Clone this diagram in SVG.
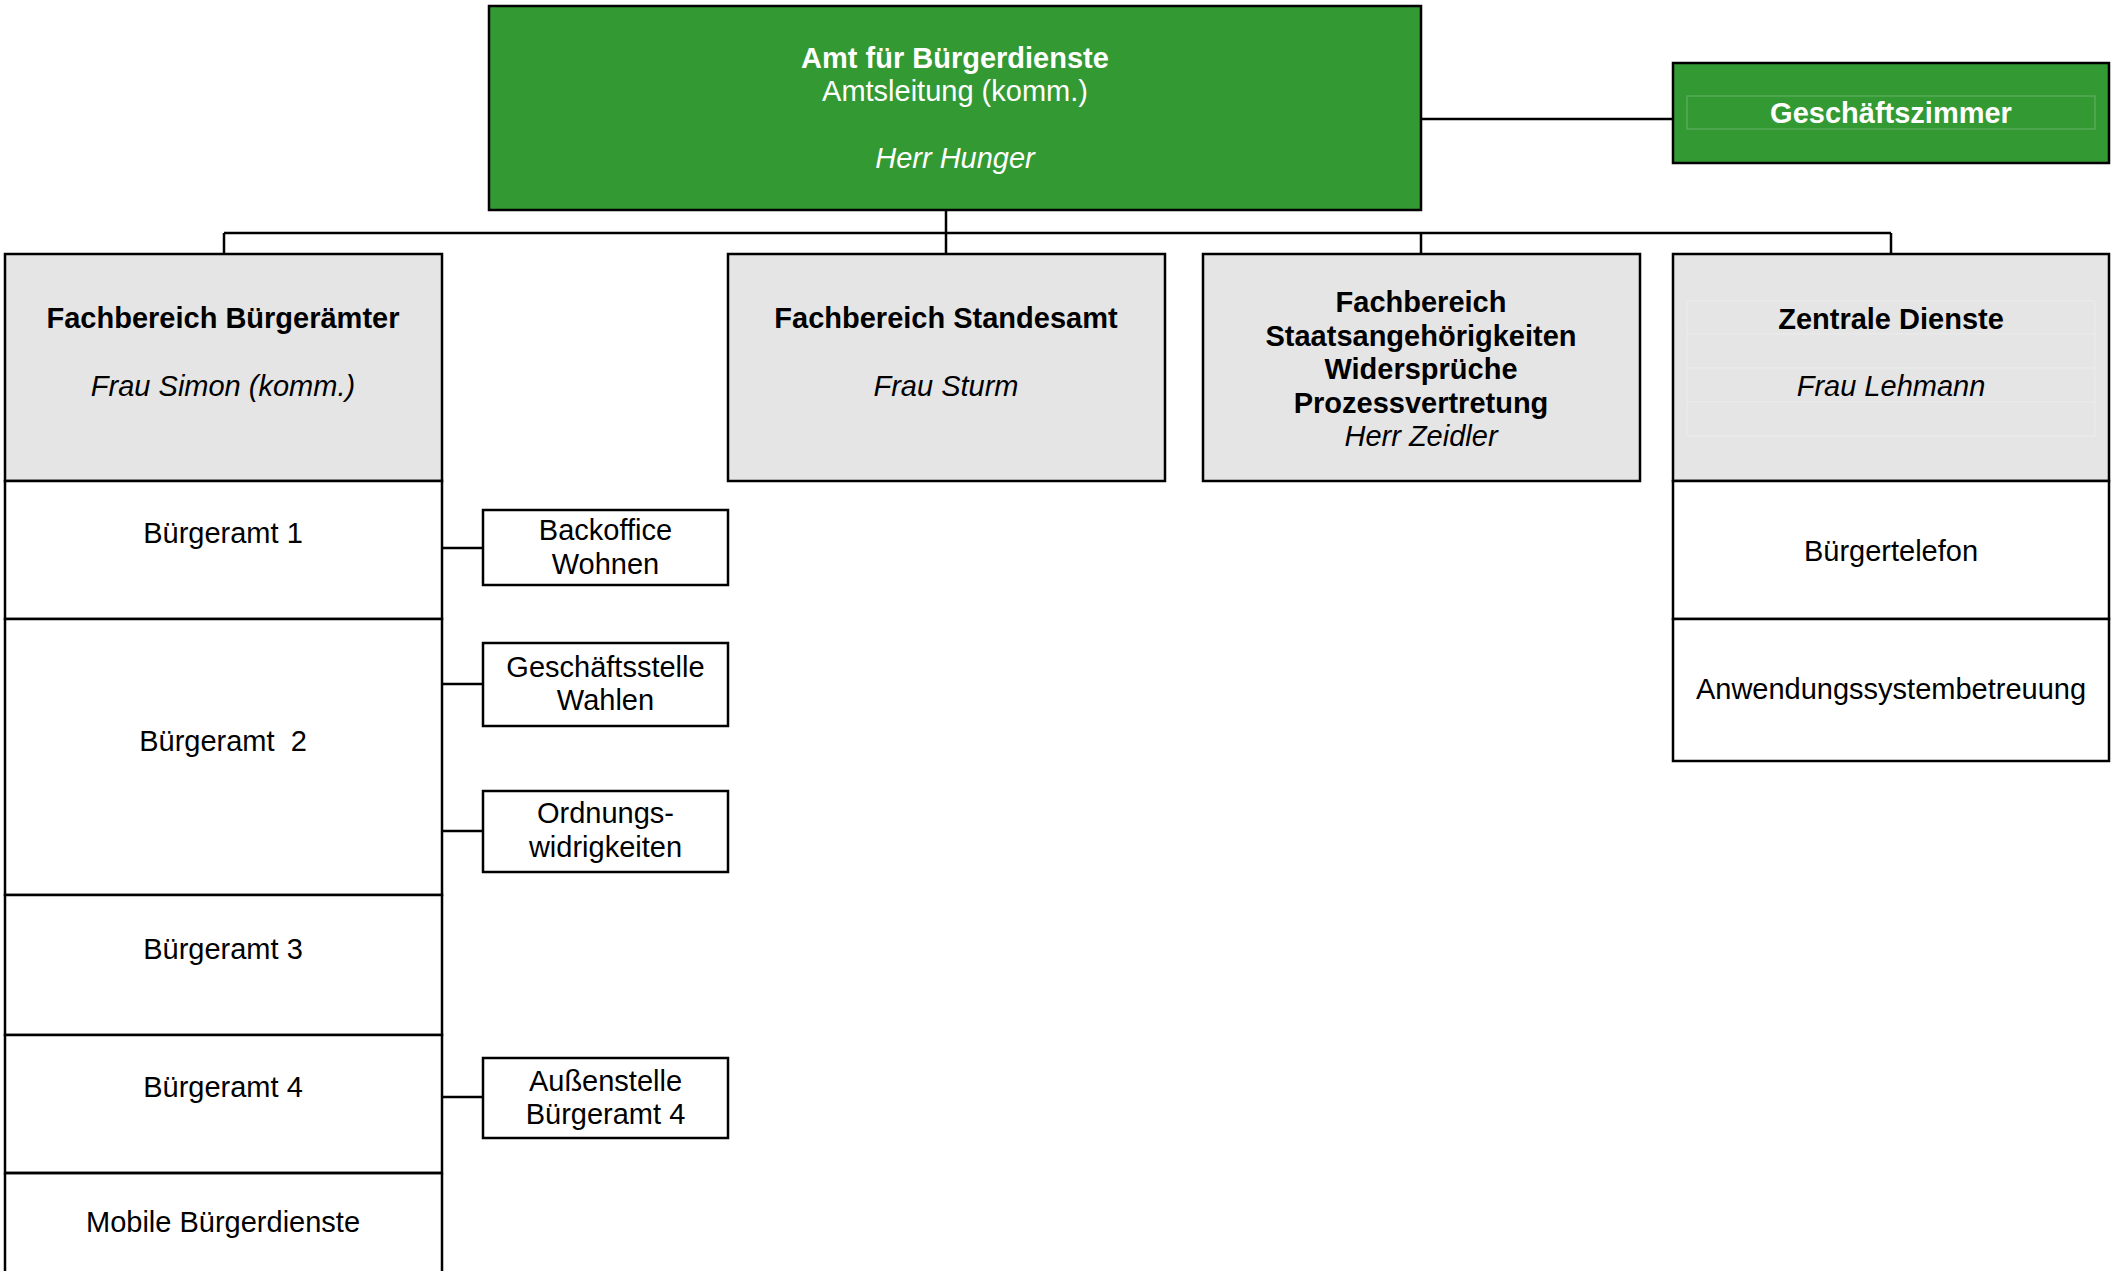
<svg xmlns="http://www.w3.org/2000/svg" width="2111" height="1271" viewBox="0 0 2111 1271">
<style>
.box{stroke:#000;stroke-width:2.5}
.green{fill:#339933}
.gray{fill:#e5e5e5}
.white{fill:#ffffff}
.line{stroke:#000;stroke-width:2.5;fill:none}
.faintg{fill:none;stroke:#5fb05f;stroke-width:1.2}
.faint{fill:none;stroke:#ececec;stroke-width:1}
text{font-family:"Liberation Sans",Arial,sans-serif;font-size:29px;text-anchor:middle;fill:#000}
.b{font-weight:bold}
.i{font-style:italic}
.w{fill:#fff}
</style>
<rect width="2111" height="1271" fill="#fff"/>
<g id="connectors">
<path class="line" d="M946,210V233M224,233H1891M224,233V254M946,233V254M1421,233V254M1891,233V254"/>
<path class="line" d="M1421,119H1673"/>
<path class="line" d="M442,548H483M442,684H483M442,831H483M442,1097H483"/>
</g>
<g id="amt">
<rect class="box green" x="489" y="6" width="932" height="204"/>
<text class="b w" x="955" y="68">Amt für Bürgerdienste</text>
<text class="w" x="955" y="101">Amtsleitung (komm.)</text>
<text class="i w" x="955" y="168">Herr Hunger</text>
</g>
<g id="geschaeftszimmer">
<rect class="box green" x="1673" y="63" width="436" height="100"/>
<rect class="faintg" x="1687" y="96" width="408" height="33"/>
<text class="b w" x="1891" y="123">Geschäftszimmer</text>
</g>
<g id="fb-buergeraemter">
<rect class="box gray" x="5" y="254" width="437" height="227"/>
<text class="b" x="223" y="328">Fachbereich Bürgerämter</text>
<text class="i" x="223" y="396">Frau Simon (komm.)</text>
</g>
<g id="buergeramt1">
<rect class="box white" x="5" y="481" width="437" height="138"/>
<text x="223" y="543">Bürgeramt 1</text>
</g>
<g id="buergeramt2">
<rect class="box white" x="5" y="619" width="437" height="276"/>
<text x="223" y="751" xml:space="preserve">Bürgeramt  2</text>
</g>
<g id="buergeramt3">
<rect class="box white" x="5" y="895" width="437" height="140"/>
<text x="223" y="959">Bürgeramt 3</text>
</g>
<g id="buergeramt4">
<rect class="box white" x="5" y="1035" width="437" height="138"/>
<text x="223" y="1097">Bürgeramt 4</text>
</g>
<g id="mobile">
<path class="line" d="M5,1173H442M5,1173V1275M442,1173V1275"/>
<text x="223" y="1232">Mobile Bürgerdienste</text>
</g>
<g id="backoffice">
<rect class="box white" x="483" y="510" width="245" height="75"/>
<text x="605.5" y="540">Backoffice</text>
<text x="605.5" y="574">Wohnen</text>
</g>
<g id="wahlen">
<rect class="box white" x="483" y="643" width="245" height="83"/>
<text x="605.5" y="677">Geschäftsstelle</text>
<text x="605.5" y="710">Wahlen</text>
</g>
<g id="owi">
<rect class="box white" x="483" y="791" width="245" height="81"/>
<text x="605.5" y="823">Ordnungs-</text>
<text x="605.5" y="857">widrigkeiten</text>
</g>
<g id="aussenstelle">
<rect class="box white" x="483" y="1058" width="245" height="80"/>
<text x="605.5" y="1091">Außenstelle</text>
<text x="605.5" y="1124">Bürgeramt 4</text>
</g>
<g id="fb-standesamt">
<rect class="box gray" x="728" y="254" width="437" height="227"/>
<text class="b" x="946" y="328">Fachbereich Standesamt</text>
<text class="i" x="946" y="396">Frau Sturm</text>
</g>
<g id="fb-staatsangehoerigkeiten">
<rect class="box gray" x="1203" y="254" width="437" height="227"/>
<text class="b" x="1421" y="312">Fachbereich</text>
<text class="b" x="1421" y="346">Staatsangehörigkeiten</text>
<text class="b" x="1421" y="379">Widersprüche</text>
<text class="b" x="1421" y="413">Prozessvertretung</text>
<text class="i" x="1421" y="446">Herr Zeidler</text>
</g>
<g id="zentrale">
<rect class="box gray" x="1673" y="254" width="436" height="227"/>
<path class="faint" d="M1687,301H2095V436H1687ZM1687,334H2095M1687,368H2095M1687,402H2095"/>
<text class="b" x="1891" y="329">Zentrale Dienste</text>
<text class="i" x="1891" y="396">Frau Lehmann</text>
</g>
<g id="buergertelefon">
<rect class="box white" x="1673" y="481" width="436" height="138"/>
<text x="1891" y="561">Bürgertelefon</text>
</g>
<g id="anwendung">
<rect class="box white" x="1673" y="619" width="436" height="142"/>
<text x="1891" y="699">Anwendungssystembetreuung</text>
</g>
</svg>
